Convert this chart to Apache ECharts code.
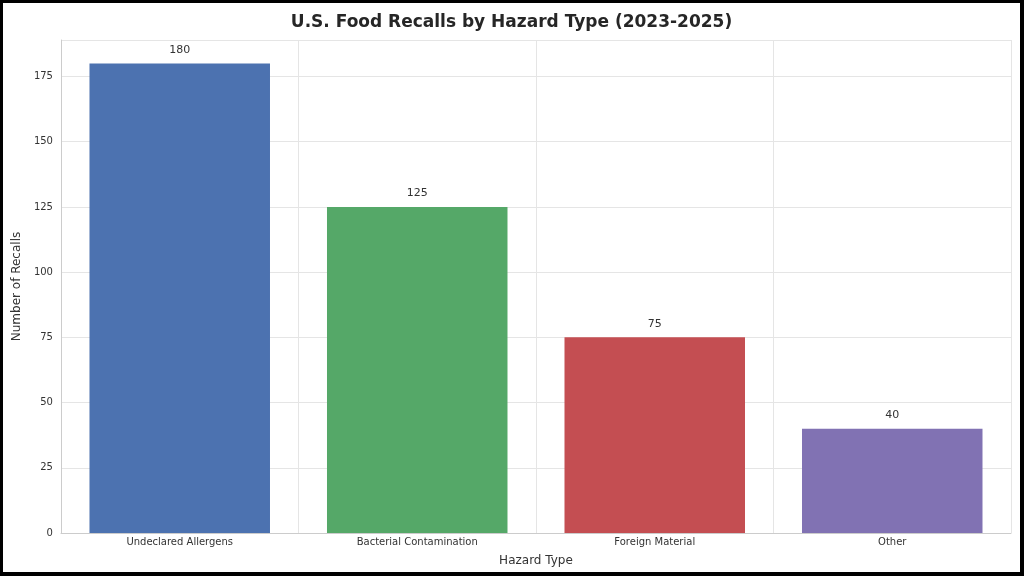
<!DOCTYPE html>
<html>
<head>
<meta charset="utf-8">
<script src="https://cdn.jsdelivr.net/npm/echarts@6/dist/echarts.min.js"></script>
<style>
  html, body { margin: 0; padding: 0; background: #000; }
  #chart { position: absolute; left: 3px; top: 3px; width: 1017px; height: 569px; background: #fff; }
</style>
</head>
<body>
<div id="chart"></div>
<script>
var categories = ['Undeclared Allergens', 'Bacterial Contamination', 'Foreign Material', 'Other'];
var recalls = [180, 125, 75, 40];
var barColors = ['#4c72b0', '#55a868', '#c44e52', '#8172b3'];

var chart = echarts.init(document.getElementById('chart'));
chart.setOption({
    animation: false,
    textStyle: { fontFamily: 'DejaVu Sans, sans-serif' },
    title: {
        text: 'U.S. Food Recalls by Hazard Type (2023-2025)',
        left: 'center',
        top: 6,
        textStyle: { fontSize: 17, fontWeight: 'bold', color: '#262626' }
    },
    grid: { left: 45, right: 9, top: 37, bottom: 36 },
    xAxis: {
        type: 'category',
        data: categories,
        name: 'Hazard Type',
        nameLocation: 'middle',
        nameGap: 22,
        nameTextStyle: { fontSize: 12, color: '#333' },
        axisLine: { lineStyle: { color: '#ccc' } },
        axisTick: { show: false },
        axisLabel: { fontSize: 10, color: '#333', margin: 4 },
        splitLine: { show: true, lineStyle: { color: '#e5e5e5' } }
    },
    yAxis: {
        type: 'value',
        min: 0,
        max: 189,
        interval: 25,
        name: 'Number of Recalls',
        nameLocation: 'middle',
        nameGap: 30,
        nameTextStyle: { fontSize: 12, color: '#333' },
        axisLine: { show: true, lineStyle: { color: '#ccc' } },
        axisTick: { show: false },
        axisLabel: { fontSize: 10, color: '#333', margin: 8, showMaxLabel: false },
        splitLine: { lineStyle: { color: '#e5e5e5' } }
    },
    series: [{
        type: 'bar',
        data: recalls.map(function (v, i) {
            return { value: v, itemStyle: { color: barColors[i] } };
        }),
        barWidth: '76%',
        label: { show: true, position: 'top', distance: 8, fontSize: 11, color: '#333' }
    }]
});
</script>
</body>
</html>
